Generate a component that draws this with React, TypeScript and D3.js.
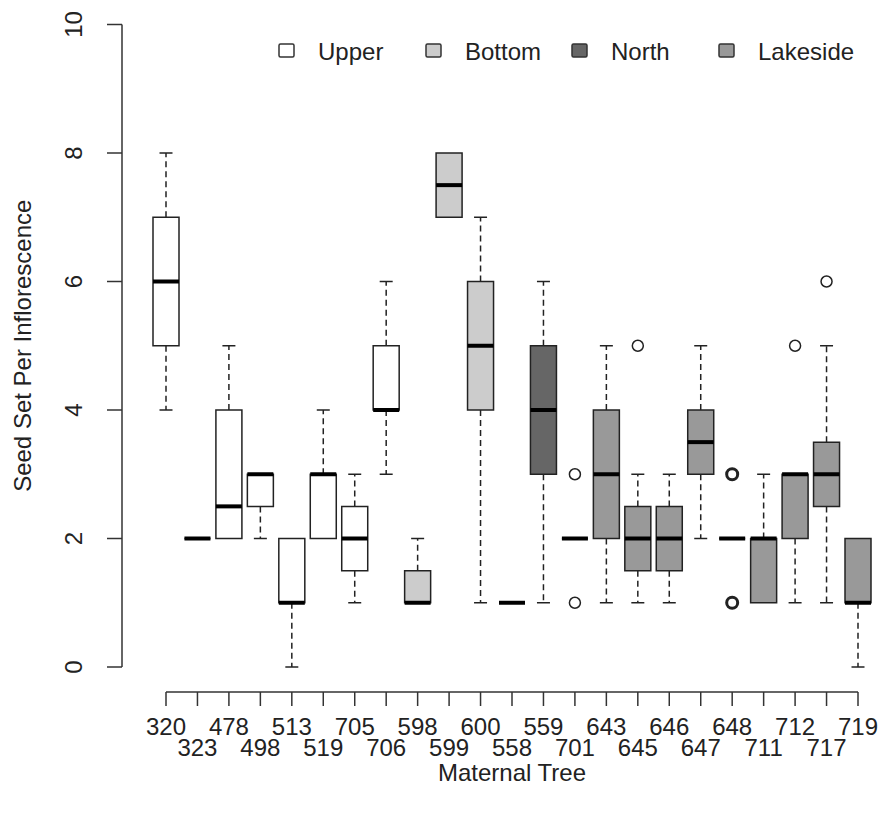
import React from "react";
import * as d3 from "d3";

const trees = ["320","323","478","498","513","519","705","706","598","599","600","558","559","701","643","645","646","647","648","711","712","717","719"];
const sites = ["Upper","Upper","Upper","Upper","Upper","Upper","Upper","Upper","Bottom","Bottom","Bottom","Bottom","North","North","Lakeside","Lakeside","Lakeside","Lakeside","Lakeside","Lakeside","Lakeside","Lakeside","Lakeside"];
const whiskerLow = [4,2,2,2,0,2,1,3, 1,7,1,1, 1,2, 1,1,1,2,2,1,1,1,0];
const q1 = [5,2,2,2.5,1,2,1.5,4, 1,7,4,1, 3,2, 2,1.5,1.5,3,2,1,2,2.5,1];
const median = [6,2,2.5,3,1,3,2,4, 1,7.5,5,1, 4,2, 3,2,2,3.5,2,2,3,3,1];
const q3 = [7,2,4,3,2,3,2.5,5, 1.5,8,6,1, 5,2, 4,2.5,2.5,4,2,2,3,3.5,2];
const whiskerHigh = [8,2,5,3,2,4,3,6, 2,8,7,1, 6,2, 5,3,3,5,2,3,3,5,2];
const outliers: number[][] = [[],[],[],[],[],[],[],[], [],[],[],[], [],[3,1], [],[5],[],[],[3,3,1,1],[],[5],[6],[]];
const siteNames = ["Upper","Bottom","North","Lakeside"];
const siteColors = ["#ffffff","#cccccc","#666666","#999999"];
const yTicks = [0,2,4,6,8,10];

const FONT = "'Liberation Sans', Arial, Helvetica, sans-serif";

export default function App() {
  const W = 882, H = 814;
  const x = d3.scaleLinear().domain([0, trees.length - 1]).range([166, 858]);
  const y = d3.scaleLinear().domain([0, 10]).range([667, 24.5]);
  const color = d3.scaleOrdinal<string, string>().domain(siteNames).range(siteColors);
  const step = x(1) - x(0);
  const bw = 26;
  const capW = 13;
  const legendX = [279, 426, 572, 719];

  return (
    <svg width={W} height={H} style={{ position: "absolute", left: 0, top: 0, background: "#fff" }} fontFamily={FONT}>
      {/* y axis */}
      <line x1={122} x2={122} y1={y(0)} y2={y(10)} stroke="#333" strokeWidth={1.5} />
      {yTicks.map(t => (
        <g key={t}>
          <line x1={107} x2={122} y1={y(t)} y2={y(t)} stroke="#333" strokeWidth={1.5} />
          <text transform={`translate(82,${y(t)}) rotate(-90)`} textAnchor="middle" fontSize={24} fill="#222">{t}</text>
        </g>
      ))}
      <text transform={`translate(31,${(y(0) + y(10)) / 2}) rotate(-90)`} textAnchor="middle" fontSize={24} fill="#222">Seed Set Per Inflorescence</text>

      {/* x axis */}
      <line x1={x(0)} x2={x(trees.length - 1)} y1={692} y2={692} stroke="#333" strokeWidth={1.5} />
      {trees.map((t, i) => (
        <g key={t}>
          <line x1={x(i)} x2={x(i)} y1={692} y2={706} stroke="#333" strokeWidth={1.5} />
          <text x={x(i)} y={i % 2 === 0 ? 735 : 756} textAnchor="middle" fontSize={24} fill="#222">{t}</text>
        </g>
      ))}
      <text x={(x(0) + x(trees.length - 1)) / 2} y={781} textAnchor="middle" fontSize={24} fill="#222">Maternal Tree</text>

      {/* boxes */}
      {trees.map((t, i) => {
        const cx = x(i);
        const fill = color(sites[i]);
        const counts = d3.rollup(outliers[i], v => v.length, v => v);
        return (
          <g key={"b" + t}>
            {whiskerHigh[i] > q3[i] && (
              <g>
                <line x1={cx} x2={cx} y1={y(q3[i])} y2={y(whiskerHigh[i])} stroke="#222" strokeWidth={1.5} strokeDasharray="6,4" />
                <line x1={cx - capW / 2} x2={cx + capW / 2} y1={y(whiskerHigh[i])} y2={y(whiskerHigh[i])} stroke="#222" strokeWidth={1.5} />
              </g>
            )}
            {whiskerLow[i] < q1[i] && (
              <g>
                <line x1={cx} x2={cx} y1={y(q1[i])} y2={y(whiskerLow[i])} stroke="#222" strokeWidth={1.5} strokeDasharray="6,4" />
                <line x1={cx - capW / 2} x2={cx + capW / 2} y1={y(whiskerLow[i])} y2={y(whiskerLow[i])} stroke="#222" strokeWidth={1.5} />
              </g>
            )}
            <path d={`M${cx - bw / 2},${y(q1[i])}H${cx + bw / 2}V${y(q3[i])}H${cx - bw / 2}Z`} fill={fill} stroke="#222" strokeWidth={1.5} />
            <line x1={cx - bw / 2} x2={cx + bw / 2} y1={y(median[i])} y2={y(median[i])} stroke="#000" strokeWidth={4} />
            {Array.from(counts.entries()).map(([v, n]) => (
              <circle key={v} cx={cx} cy={y(v)} r={5.5} fill="none" stroke="#222" strokeWidth={n > 1 ? 3 : 1.5} />
            ))}
          </g>
        );
      })}

      {/* legend */}
      {siteNames.map((s, k) => (
        <g key={s}>
          <rect x={legendX[k]} y={44} width={15} height={13} rx={1.5} fill={color(s)} stroke="#333" strokeWidth={1.5} />
          <text x={legendX[k] + 39} y={60} fontSize={24} fill="#222">{s}</text>
        </g>
      ))}
    </svg>
  );
}
